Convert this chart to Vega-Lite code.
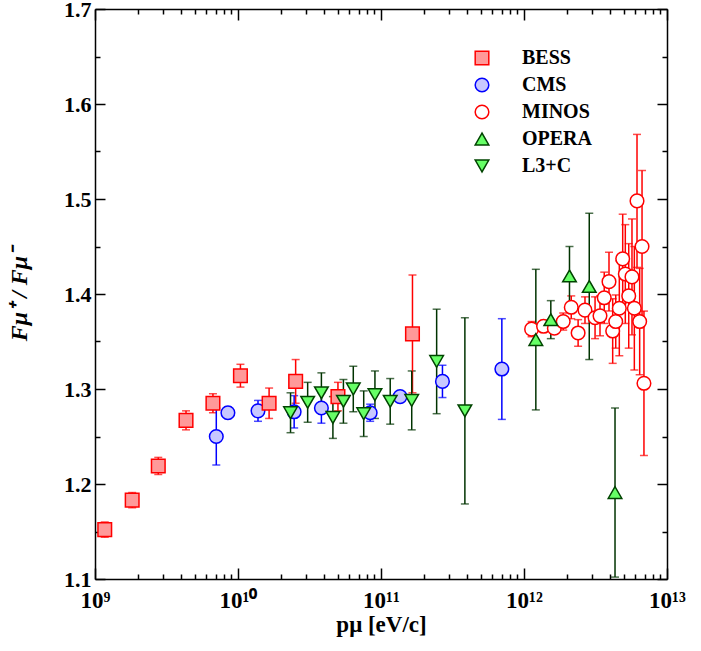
{
  "$schema": "https://vega.github.io/schema/vega-lite/v6.json",
  "width": 572,
  "height": 570,
  "autosize": "none",
  "padding": {"left": 95, "top": 9, "right": 34, "bottom": 72},
  "background": "white",
  "data": {
    "values": [
      {"series": "CMS", "p": 7.05e9, "r": 1.250, "err": 0.030},
      {"series": "CMS", "p": 8.5e9, "r": 1.275, "err": 0.006},
      {"series": "CMS", "p": 1.38e10, "r": 1.277, "err": 0.011},
      {"series": "CMS", "p": 2.47e10, "r": 1.276, "err": 0.017},
      {"series": "CMS", "p": 3.83e10, "r": 1.280, "err": 0.016},
      {"series": "CMS", "p": 8.4e10, "r": 1.275, "err": 0.009},
      {"series": "CMS", "p": 1.36e11, "r": 1.292, "err": 0.004},
      {"series": "CMS", "p": 2.69e11, "r": 1.308, "err": 0.017},
      {"series": "CMS", "p": 7.0e11, "r": 1.321, "err": 0.053},
      {"series": "BESS", "p": 1.17e9, "r": 1.152, "err": 0.008},
      {"series": "BESS", "p": 1.82e9, "r": 1.183, "err": 0.008},
      {"series": "BESS", "p": 2.77e9, "r": 1.219, "err": 0.009},
      {"series": "BESS", "p": 4.33e9, "r": 1.267, "err": 0.010},
      {"series": "BESS", "p": 6.68e9, "r": 1.285, "err": 0.010},
      {"series": "BESS", "p": 1.04e10, "r": 1.314, "err": 0.012},
      {"series": "BESS", "p": 1.65e10, "r": 1.285, "err": 0.016},
      {"series": "BESS", "p": 2.53e10, "r": 1.308, "err": 0.023},
      {"series": "BESS", "p": 5.0e10, "r": 1.292, "err": 0.015},
      {"series": "BESS", "p": 1.66e11, "r": 1.358, "err": 0.062},
      {"series": "MINOS", "p": 1.13e12, "r": 1.363, "err": 0.008},
      {"series": "MINOS", "p": 1.37e12, "r": 1.366, "err": 0.006},
      {"series": "MINOS", "p": 1.63e12, "r": 1.364, "err": 0.006},
      {"series": "MINOS", "p": 1.88e12, "r": 1.371, "err": 0.009},
      {"series": "MINOS", "p": 2.14e12, "r": 1.386, "err": 0.012},
      {"series": "MINOS", "p": 2.39e12, "r": 1.359, "err": 0.014},
      {"series": "MINOS", "p": 2.67e12, "r": 1.383, "err": 0.014},
      {"series": "MINOS", "p": 3.14e12, "r": 1.375, "err": 0.022},
      {"series": "MINOS", "p": 3.40e12, "r": 1.377, "err": 0.021},
      {"series": "MINOS", "p": 3.64e12, "r": 1.396, "err": 0.027},
      {"series": "MINOS", "p": 3.93e12, "r": 1.413, "err": 0.031},
      {"series": "MINOS", "p": 4.17e12, "r": 1.361, "err": 0.034},
      {"series": "MINOS", "p": 4.38e12, "r": 1.371, "err": 0.028},
      {"series": "MINOS", "p": 4.64e12, "r": 1.385, "err": 0.050},
      {"series": "MINOS", "p": 4.90e12, "r": 1.437, "err": 0.047},
      {"series": "MINOS", "p": 5.11e12, "r": 1.421, "err": 0.052},
      {"series": "MINOS", "p": 5.40e12, "r": 1.398, "err": 0.055},
      {"series": "MINOS", "p": 5.69e12, "r": 1.418, "err": 0.061},
      {"series": "MINOS", "p": 5.91e12, "r": 1.385, "err": 0.065},
      {"series": "MINOS", "p": 6.17e12, "r": 1.498, "err": 0.070},
      {"series": "MINOS", "p": 6.44e12, "r": 1.371, "err": 0.056},
      {"series": "MINOS", "p": 6.69e12, "r": 1.450, "err": 0.080},
      {"series": "MINOS", "p": 6.90e12, "r": 1.306, "err": 0.076},
      {"series": "OPERA", "p": 1.21e12, "r": 1.352, "err": 0.074},
      {"series": "OPERA", "p": 1.54e12, "r": 1.373, "err": 0.020},
      {"series": "OPERA", "p": 2.08e12, "r": 1.419, "err": 0.031},
      {"series": "OPERA", "p": 2.86e12, "r": 1.408, "err": 0.077},
      {"series": "OPERA", "p": 4.33e12, "r": 1.191, "err": 0.089},
      {"series": "L3+C", "p": 2.33e10, "r": 1.275, "err": 0.021},
      {"series": "L3+C", "p": 3.07e10, "r": 1.286, "err": 0.021},
      {"series": "L3+C", "p": 3.83e10, "r": 1.296, "err": 0.021},
      {"series": "L3+C", "p": 4.61e10, "r": 1.270, "err": 0.022},
      {"series": "L3+C", "p": 5.46e10, "r": 1.287, "err": 0.023},
      {"series": "L3+C", "p": 6.4e10, "r": 1.300, "err": 0.024},
      {"series": "L3+C", "p": 7.57e10, "r": 1.274, "err": 0.024},
      {"series": "L3+C", "p": 9.07e10, "r": 1.294, "err": 0.025},
      {"series": "L3+C", "p": 1.16e11, "r": 1.287, "err": 0.024},
      {"series": "L3+C", "p": 1.64e11, "r": 1.288, "err": 0.031},
      {"series": "L3+C", "p": 2.45e11, "r": 1.329, "err": 0.055},
      {"series": "L3+C", "p": 3.86e11, "r": 1.277, "err": 0.098}
    ]
  },
  "layer": [
    {
      "mark": {"type": "errorbar", "ticks": true, "size": 8, "thickness": 1.5},
      "encoding": {
        "x": {
          "field": "p",
          "type": "quantitative",
          "scale": {"type": "log", "domain": [1e9, 1e13], "nice": false},
          "axis": {
            "orient": "bottom",
            "values": [1e9, 2e9, 3e9, 4e9, 5e9, 6e9, 7e9, 8e9, 9e9, 1e10, 2e10, 3e10, 4e10, 5e10, 6e10, 7e10, 8e10, 9e10, 1e11, 2e11, 3e11, 4e11, 5e11, 6e11, 7e11, 8e11, 9e11, 1e12, 2e12, 3e12, 4e12, 5e12, 6e12, 7e12, 8e12, 9e12, 1e13],
            "tickSize": {"condition": {"test": "abs(log(datum.value)/LN10 - round(log(datum.value)/LN10)) < 0.01", "value": -11}, "value": -5},
            "labelExpr": "abs(log(datum.value)/LN10 - round(log(datum.value)/LN10)) < 0.01 ? ['10⁹','10¹⁰','10¹¹','10¹²','10¹³'][round(log(datum.value)/LN10) - 9] : ''",
            "labelPadding": 21,
            "labelFontSize": 23,
            "labelFlush": false,
            "labelOverlap": false,
            "labelBound": false,
            "title": "pμ [eV/c]",
            "titleFontSize": 23,
            "titlePadding": -5
          }
        },
        "y": {
          "field": "r",
          "type": "quantitative",
          "scale": {"domain": [1.1, 1.7], "nice": false, "zero": false},
          "axis": {
            "orient": "left",
            "values": [1.1, 1.15, 1.2, 1.25, 1.3, 1.35, 1.4, 1.45, 1.5, 1.55, 1.6, 1.65, 1.7],
            "tickSize": {"condition": {"test": "abs(datum.value*10 - round(datum.value*10)) < 0.01", "value": -10}, "value": -5},
            "labelExpr": "abs(datum.value*10 - round(datum.value*10)) < 0.01 ? format(datum.value, '.1f') : ''",
            "labelPadding": 14,
            "labelFontSize": 22,
            "labelFlush": false,
            "labelOverlap": false,
            "labelBound": false,
            "title": "Fμ⁺ / Fμ⁻",
            "titleFontStyle": "italic",
            "titleFontSize": 24,
            "titlePadding": 32
          }
        },
        "yError": {"field": "err"},
        "color": {
          "field": "series",
          "type": "nominal",
          "scale": {
            "domain": ["CMS", "BESS", "MINOS", "OPERA", "L3+C"],
            "range": ["#0000ff", "#ff0000", "#ff0000", "#003300", "#003300"]
          },
          "legend": null
        }
      }
    },
    {
      "mark": {"type": "point", "size": 185, "strokeWidth": 1.5, "opacity": 1, "fillOpacity": 1},
      "encoding": {
        "x": {
          "field": "p",
          "type": "quantitative",
          "axis": {
            "orient": "top",
            "values": [1e9, 2e9, 3e9, 4e9, 5e9, 6e9, 7e9, 8e9, 9e9, 1e10, 2e10, 3e10, 4e10, 5e10, 6e10, 7e10, 8e10, 9e10, 1e11, 2e11, 3e11, 4e11, 5e11, 6e11, 7e11, 8e11, 9e11, 1e12, 2e12, 3e12, 4e12, 5e12, 6e12, 7e12, 8e12, 9e12, 1e13],
            "tickSize": {"condition": {"test": "abs(log(datum.value)/LN10 - round(log(datum.value)/LN10)) < 0.01", "value": -11}, "value": -5},
            "labels": false,
            "title": null
          }
        },
        "y": {
          "field": "r",
          "type": "quantitative",
          "axis": {
            "orient": "right",
            "values": [1.1, 1.15, 1.2, 1.25, 1.3, 1.35, 1.4, 1.45, 1.5, 1.55, 1.6, 1.65, 1.7],
            "tickSize": {"condition": {"test": "abs(datum.value*10 - round(datum.value*10)) < 0.01", "value": -10}, "value": -5},
            "labels": false,
            "title": null
          }
        },
        "shape": {
          "field": "series",
          "type": "nominal",
          "scale": {
            "domain": ["BESS", "CMS", "MINOS", "OPERA", "L3+C"],
            "range": ["square", "circle", "circle", "triangle-up", "triangle-down"]
          },
          "legend": {"title": null, "orient": "none", "legendX": 377, "legendY": 39, "labelOffset": 30, "rowPadding": 7, "symbolSize": 185, "symbolStrokeWidth": 1.5}
        },
        "fill": {
          "field": "series",
          "type": "nominal",
          "scale": {
            "domain": ["BESS", "CMS", "MINOS", "OPERA", "L3+C"],
            "range": ["#ff9999", "#c8c8ff", "#ffffff", "#66ff66", "#66ff66"]
          },
          "legend": {"title": null, "orient": "none", "legendX": 377, "legendY": 39, "labelOffset": 30, "rowPadding": 7, "symbolSize": 185, "symbolStrokeWidth": 1.5}
        },
        "stroke": {
          "field": "series",
          "type": "nominal",
          "scale": {
            "domain": ["BESS", "CMS", "MINOS", "OPERA", "L3+C"],
            "range": ["#ff0000", "#0000ff", "#ff0000", "#004400", "#004400"]
          },
          "legend": {"title": null, "orient": "none", "legendX": 377, "legendY": 39, "labelOffset": 30, "rowPadding": 7, "symbolSize": 185, "symbolStrokeWidth": 1.5}
        }
      }
    }
  ],
  "resolve": {"axis": {"x": "independent", "y": "independent"}},
  "config": {
    "view": {"stroke": null},
    "font": "Liberation Serif",
    "axis": {
      "grid": false,
      "domainColor": "black",
      "domainWidth": 1.5,
      "tickColor": "black",
      "tickWidth": 1.5,
      "labelFont": "Liberation Serif",
      "labelFontWeight": "bold",
      "labelColor": "black",
      "titleFont": "Liberation Serif",
      "titleFontWeight": "bold",
      "titleColor": "black"
    },
    "legend": {
      "labelFont": "Liberation Serif",
      "labelFontWeight": "bold",
      "labelFontSize": 20,
      "labelColor": "black",
      "padding": 0
    }
  }
}
